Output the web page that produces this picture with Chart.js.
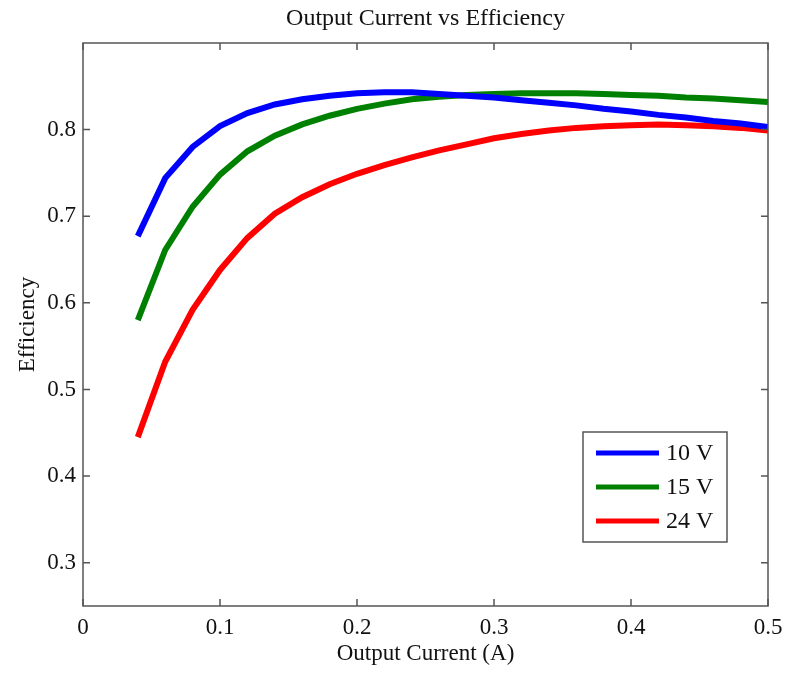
<!DOCTYPE html>
<html>
<head>
<meta charset="utf-8">
<script src="https://cdn.jsdelivr.net/npm/chart.js@4.4.0/dist/chart.umd.min.js"></script>
<style>
  html, body { margin: 0; padding: 0; background: #fff; }
  #wrap { width: 793px; height: 676px; }
</style>
</head>
<body>
<div id="wrap"><canvas id="effChart" width="793" height="676"></canvas></div>
<script>
// x values (A) and measured efficiency per input voltage
const outputCurrent = [0.04, 0.06, 0.08, 0.10, 0.12, 0.14, 0.16, 0.18, 0.20, 0.22, 0.24, 0.26,
                       0.28, 0.30, 0.32, 0.34, 0.36, 0.38, 0.40, 0.42, 0.44, 0.46, 0.48, 0.50];
const eff10V = [0.677, 0.744, 0.780, 0.804, 0.819, 0.829, 0.835, 0.839, 0.842, 0.843, 0.843, 0.841,
                0.839, 0.837, 0.834, 0.831, 0.828, 0.824, 0.821, 0.817, 0.814, 0.810, 0.807, 0.803];
const eff15V = [0.580, 0.661, 0.711, 0.748, 0.775, 0.793, 0.806, 0.816, 0.824, 0.830, 0.835, 0.838,
                0.840, 0.841, 0.842, 0.842, 0.842, 0.841, 0.840, 0.839, 0.837, 0.836, 0.834, 0.832];
const eff24V = [0.445, 0.532, 0.592, 0.638, 0.675, 0.703, 0.722, 0.737, 0.749, 0.759, 0.768, 0.776,
                0.783, 0.790, 0.795, 0.799, 0.802, 0.804, 0.805, 0.806, 0.805, 0.804, 0.802, 0.799];

const seriesLabels = ['10 V', '15 V', '24 V'];
const seriesColors = ['#0000ff', '#008000', '#ff0000'];

const xTicks = [0, 0.1, 0.2, 0.3, 0.4, 0.5];
const yTicks = [0.3, 0.4, 0.5, 0.6, 0.7, 0.8];

const FONT = 'Liberation Serif, Times New Roman, serif';
const axisColor = '#555555';
const textColor = '#111111';

function toPoints(ys) {
    return outputCurrent.map((x, i) => ({ x: x, y: ys[i] }));
}

function fmtTick(v) {
    return Number(v.toFixed(1)).toString();
}

// matlab-ish box, inward ticks and a legend inside the axes
const frameAndLegend = {
    id: 'frameAndLegend',
    afterDatasetsDraw(chart) {
        const { ctx, chartArea: a, scales } = chart;
        const tickLen = 7;
        ctx.save();
        ctx.strokeStyle = axisColor;
        ctx.lineWidth = 1.5;
        ctx.strokeRect(a.left, a.top, a.right - a.left, a.bottom - a.top);

        ctx.beginPath();
        xTicks.forEach(v => {
            const px = scales.x.getPixelForValue(v);
            ctx.moveTo(px, a.bottom); ctx.lineTo(px, a.bottom - tickLen);
            ctx.moveTo(px, a.top); ctx.lineTo(px, a.top + tickLen);
        });
        yTicks.forEach(v => {
            const py = scales.y.getPixelForValue(v);
            ctx.moveTo(a.left, py); ctx.lineTo(a.left + tickLen, py);
            ctx.moveTo(a.right, py); ctx.lineTo(a.right - tickLen, py);
        });
        ctx.stroke();

        // legend box
        const boxW = 144, boxH = 110;
        const bx = a.right - 41 - boxW;
        const by = a.bottom - 64 - boxH;
        ctx.fillStyle = '#ffffff';
        ctx.fillRect(bx, by, boxW, boxH);
        ctx.strokeRect(bx, by, boxW, boxH);

        ctx.font = '24px ' + FONT;
        ctx.textBaseline = 'middle';
        ctx.textAlign = 'left';
        chart.data.datasets.forEach((ds, i) => {
            const ly = by + 21 + i * 34;
            ctx.strokeStyle = ds.borderColor;
            ctx.lineWidth = 5;
            ctx.beginPath();
            ctx.moveTo(bx + 13, ly);
            ctx.lineTo(bx + 76, ly);
            ctx.stroke();
            ctx.fillStyle = textColor;
            ctx.fillText(ds.label, bx + 83, ly + 1);
        });
        ctx.restore();
    }
};

const ctx = document.getElementById('effChart').getContext('2d');
new Chart(ctx, {
    type: 'line',
    data: {
        datasets: [eff10V, eff15V, eff24V].map((ys, i) => ({
            label: seriesLabels[i],
            data: toPoints(ys),
            borderColor: seriesColors[i],
            backgroundColor: seriesColors[i],
            borderWidth: 6,
            pointRadius: 0,
            tension: 0,
            fill: false
        }))
    },
    options: {
        responsive: false,
        animation: false,
        devicePixelRatio: 1,
        layout: { padding: { left: 0, right: 25, top: 0, bottom: 0 } },
        plugins: {
            legend: { display: false },
            tooltip: { enabled: false },
            title: {
                display: true,
                text: 'Output Current vs Efficiency',
                fullSize: false,
                color: textColor,
                font: { family: FONT, size: 24, weight: 'normal' },
                padding: { top: 4, bottom: 10.2 }
            }
        },
        scales: {
            x: {
                type: 'linear',
                min: 0,
                max: 0.5,
                grid: { display: false, drawTicks: false },
                border: { display: false },
                afterBuildTicks: scale => { scale.ticks = xTicks.map(v => ({ value: v })); },
                afterFit: scale => { scale.height = 70; },
                ticks: {
                    autoSkip: false,
                    maxRotation: 0,
                    padding: 8,
                    color: textColor,
                    font: { family: FONT, size: 23 },
                    callback: v => fmtTick(v)
                },
                title: {
                    display: true,
                    text: 'Output Current (A)',
                    color: textColor,
                    font: { family: FONT, size: 23 },
                    padding: { top: 8, bottom: 8 }
                }
            },
            y: {
                type: 'linear',
                min: 0.25,
                max: 0.9,
                grid: { display: false, drawTicks: false },
                border: { display: false },
                afterBuildTicks: scale => { scale.ticks = yTicks.map(v => ({ value: v })); },
                afterFit: scale => { scale.width = 83; },
                ticks: {
                    autoSkip: false,
                    padding: 7,
                    color: textColor,
                    font: { family: FONT, size: 23 },
                    callback: v => fmtTick(v)
                },
                title: {
                    display: true,
                    text: 'Efficiency',
                    color: textColor,
                    font: { family: FONT, size: 23 },
                    padding: { top: 14, bottom: 14 }
                }
            }
        }
    },
    plugins: [frameAndLegend]
});
</script>
</body>
</html>
